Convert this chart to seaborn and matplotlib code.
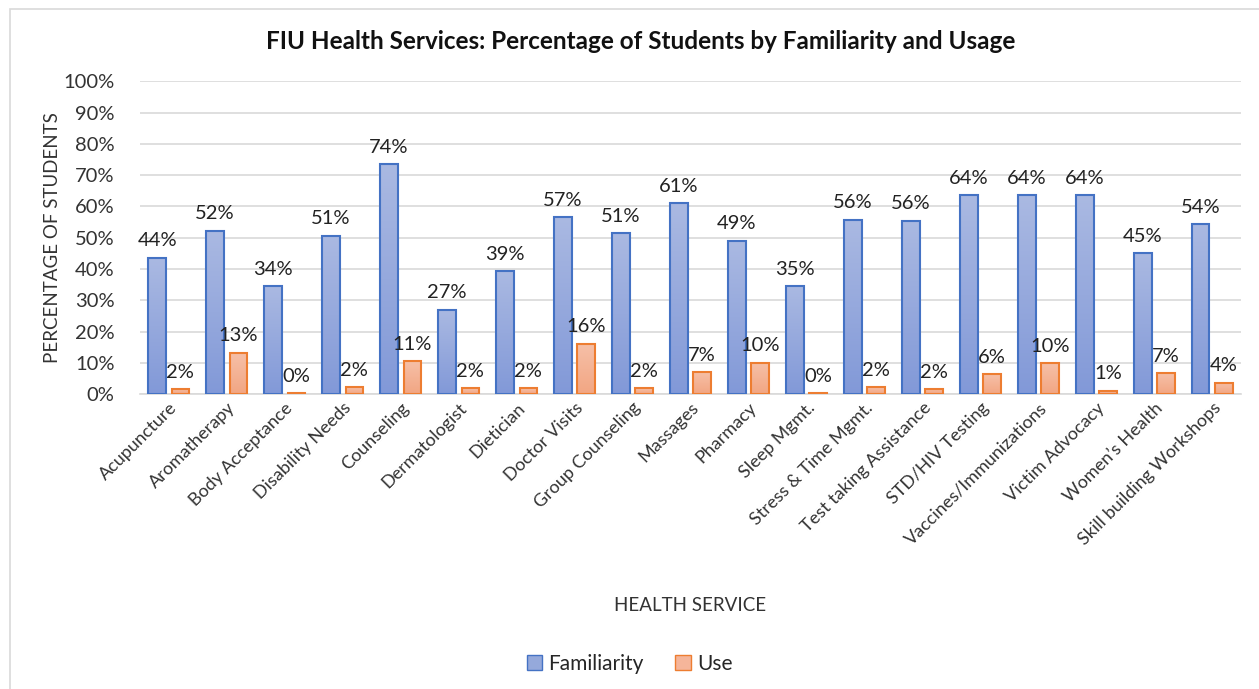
import numpy as np
import pandas as pd
import matplotlib
matplotlib.use("Agg")
import matplotlib.pyplot as plt
import seaborn as sns
from matplotlib.patches import Rectangle, Patch
from matplotlib.colors import LinearSegmentedColormap

# === Daten ===
services = ["Acupuncture", "Aromatherapy", "Body Acceptance", "Disability Needs", "Counseling",
            "Dermatologist", "Dietician", "Doctor Visits", "Group Counseling", "Massages",
            "Pharmacy", "Sleep Mgmt.", "Stress & Time Mgmt.", "Test taking Assistance",
            "STD/HIV Testing", "Vaccines/Immunizations", "Victim Advocacy", "Women's Health",
            "Skill building Workshops"]
familiarity = [43.6, 52.2, 34.5, 50.6, 73.6, 27.0, 39.3, 56.6, 51.4, 61.0,
               49.1, 34.6, 55.8, 55.5, 63.6, 63.6, 63.6, 45.0, 54.3]
use = [1.6, 13.2, 0.4, 2.2, 10.6, 1.9, 1.9, 16.1, 1.9, 7.1,
       10.1, 0.4, 2.2, 1.6, 6.3, 9.8, 1.1, 6.6, 3.7]

df = pd.DataFrame({"service": services * 2,
                   "value": familiarity + use,
                   "kind": ["Familiarity"] * len(services) + ["Use"] * len(services)})

# === Stil ===
sns.set_style("white")
plt.rcParams["font.family"] = ["Lato", "DejaVu Sans"]

fig = plt.figure(figsize=(12.59, 6.89), dpi=100)
ax = fig.add_axes([0.111, 0.428, 0.875, 0.454])

pal = {"Familiarity": "#91A6DA", "Use": "#F4B294"}
sns.barplot(data=df, x="service", y="value", hue="kind", palette=pal,
            width=0.8, gap=0.25, ax=ax, legend=False)

# Verlauf in den Balken
grad_blue = LinearSegmentedColormap.from_list("b", ["#8299D8", "#AAB9E2"])
grad_orange = LinearSegmentedColormap.from_list("o", ["#F2A683", "#F6C0A8"])
edges = {"Familiarity": "#4472C4", "Use": "#ED7D31"}
for cont, kind in zip(ax.containers, ["Familiarity", "Use"]):
    cmap = grad_blue if kind == "Familiarity" else grad_orange
    for bar in cont:
        x0, y0 = bar.get_x(), bar.get_y()
        w, h = bar.get_width(), bar.get_height()
        img = ax.imshow(np.linspace(0, 1, 100).reshape(-1, 1), cmap=cmap, origin="lower",
                        extent=[x0, x0 + w, y0, y0 + h], aspect="auto", zorder=2)
        img.set_clip_path(bar)
        bar.set_facecolor("none")
        bar.set_edgecolor(edges[kind])
        bar.set_linewidth(1.5)
        bar.set_zorder(3)
    ax.bar_label(cont, labels=[f"{round(v):.0f}%" for v in cont.datavalues],
                 padding=6, fontsize=14.5, color="#222222")

ax.set_xlim(-0.5, len(services) - 0.5)
ax.set_ylim(0, 100)
ax.set_yticks(range(0, 101, 10))
ax.set_yticklabels([f"{t}%" for t in range(0, 101, 10)], fontsize=14.5, color="#333333")
ax.tick_params(axis="y", length=0, pad=18)
ax.tick_params(axis="x", length=0, pad=4)
ax.set_xticks(range(len(services)))
ax.set_xticklabels([s.replace("'", "’") for s in services], rotation=45, ha="right",
                   rotation_mode="anchor", fontsize=13, color="#333333")
ax.yaxis.grid(True, color="#D9D9D9", linewidth=1.2)
ax.set_axisbelow(True)
for s in ["top", "right", "left"]:
    ax.spines[s].set_visible(False)
ax.spines["bottom"].set_color("#D9D9D9")
ax.spines["bottom"].set_linewidth(1.2)

ax.set_xlabel("HEALTH SERVICE", fontsize=13.5, color="#333333", labelpad=35)
ax.set_ylabel("PERCENTAGE OF STUDENTS", fontsize=13.5, color="#333333", labelpad=2)
fig.text(0.509, 0.94, "FIU Health Services: Percentage of Students by Familiarity and Usage",
         ha="center", va="center", fontsize=17.5, fontweight="bold", color="#111111")

handles = [Patch(facecolor="#95A9DB", edgecolor="#4472C4", label="Familiarity"),
           Patch(facecolor="#F5B59A", edgecolor="#ED7D31", label="Use")]
fig.legend(handles=handles, loc="center", bbox_to_anchor=(0.5, 0.037), ncol=2,
           frameon=False, fontsize=15, handlelength=0.75, handleheight=0.75,
           handletextpad=0.3, columnspacing=1.5)

# Rahmen um die Grafik
fig.patches.append(Rectangle((0.008, -0.01), 1.0, 0.997, transform=fig.transFigure,
                             fill=False, edgecolor="#D9D9D9", linewidth=1.2))

fig.savefig("out.png", dpi=100, facecolor="white")
